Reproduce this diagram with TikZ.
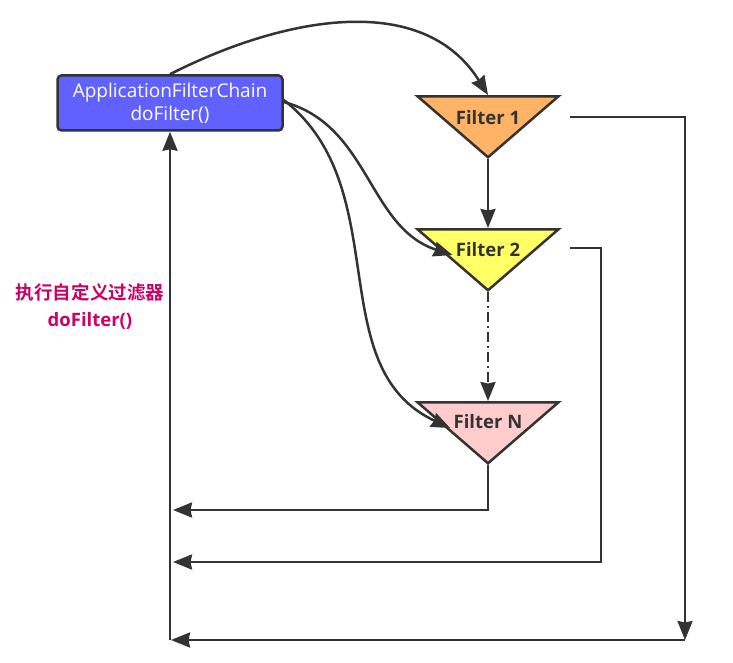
\documentclass[tikz,border=0pt]{standalone}
\usepackage{fontspec}
\setmainfont{Open Sans}
\newfontfamily\cjk{Noto Sans CJK SC}[BoldFont={Noto Sans CJK SC Bold}]
\usetikzlibrary{arrows.meta,positioning,calc,shapes.geometric}

\definecolor{chainblue}{HTML}{6161FF}
\definecolor{linegray}{HTML}{333333}
\definecolor{filterorange}{HTML}{FFB366}
\definecolor{filteryellow}{HTML}{FFFF66}
\definecolor{filterpink}{HTML}{FFCCCC}
\definecolor{notemagenta}{HTML}{CC0066}

\tikzset{
  flow/.style={draw=linegray, line width=2.5pt, -{Stealth[length=19pt,width=15pt,inset=1.5pt]}},
  chainbox/.style={draw=linegray, line width=2.5pt, fill=chainblue, rounded corners=4pt,
    minimum width=225pt, minimum height=55pt, text=white, align=center,
    font=\fontsize{19pt}{23pt}\selectfont},
  filterbox/.style={isosceles triangle, isosceles triangle apex angle=98, isosceles triangle stretches,
    shape border rotate=270, minimum width=141pt, minimum height=61pt, inner sep=0pt,
    draw=linegray, line width=2.5pt, anchor=north},
  filtertext/.style={font=\fontsize{18.5pt}{20pt}\selectfont\bfseries, text=linegray}
}

\begin{document}
\begin{tikzpicture}[x=1pt,y=-1pt]
    \useasboundingbox (0,0) rectangle (733,663);

    % Chain and filters
    \node[chainbox] (chain) at (170,103) {ApplicationFilterChain\\doFilter()};
    \node[filterbox, fill=filterorange] (f1) at (488,95) {};
    \node[filterbox, fill=filteryellow] (f2) at (488,228) {};
    \node[filterbox, fill=filterpink] (fn) at (488,401) {};
    \node[filtertext] (f1label) at ([yshift=-23pt]f1.north) {Filter 1};
    \node[filtertext] (f2label) at ([yshift=-22pt]f2.north) {Filter 2};
    \node[filtertext] (fnlabel) at ([yshift=-21pt]fn.north) {Filter N};

    % Note
    \node[text=notemagenta, align=center, font=\fontsize{18.5pt}{27pt}\selectfont\bfseries] (note) at (90,307)
        {{\cjk 执行自定义过滤器}\\doFilter()};

    % Corner points of the return paths
    \coordinate (r2) at (601,248);
    \coordinate (bottom) at (685,640);
    \coordinate (back) at (chain.south |- bottom);

    % Calls
    \draw[flow] (chain.north) to[out=27,in=122] (f1.north);
    \draw[flow] (f1.apex) -- (f2.north);
    \draw[flow, dash pattern=on 10pt off 4pt on 2pt off 4pt] (f2.apex) -- (fn.north);
    \draw[flow] ([yshift=1pt]chain.east) to[out=-15,in=162] ([yshift=-27pt]f2.north -| f2label.west);
    \draw[flow] ([yshift=3pt]chain.east) to[out=-38,in=155] ([yshift=-27pt]fn.north -| fnlabel.west);

    % Returns
    \draw[flow] (fn.apex) |- ([xshift=3pt]back |- 0,510);
    \draw[flow] ($(f2.left corner)+(8,20)$) -| (r2 |- 0,562) -- ([xshift=3pt]back |- 0,562);
    \draw[flow] ($(f1.left corner)+(8,22)$) -| (bottom);
    \draw[flow] (bottom) -- ([xshift=1pt]back);
    \draw[flow] (back) -- (chain.south);
\end{tikzpicture}
\end{document}
